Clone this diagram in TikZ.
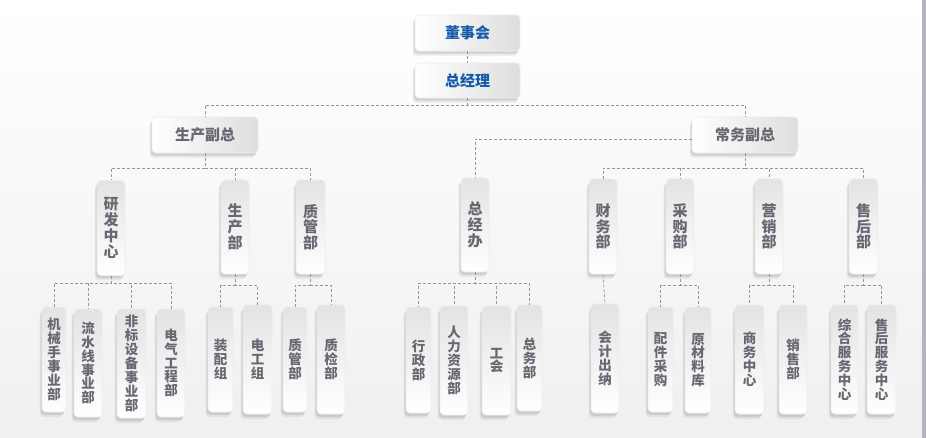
\documentclass[tikz,border=0pt]{standalone}
\usepackage{fontspec}
\newfontfamily\cjk{Noto Sans CJK SC}
\usetikzlibrary{shadows,calc}
\definecolor{txtgray}{RGB}{104,104,114}
\definecolor{txtblue}{RGB}{22,92,172}
\definecolor{linegray}{RGB}{150,150,150}
\definecolor{stripgray}{RGB}{180,180,190}
\tikzset{
  boxbase/.style={rounded corners=4pt, draw=black!7, line width=0.6pt, inner sep=0pt,
    drop shadow={shadow xshift=-1.5pt, shadow yshift=-3pt, opacity=0.10, fill=black},
    drop shadow={shadow xshift=-2.5pt, shadow yshift=-5pt, opacity=0.06, fill=black}},
  hbox/.style={boxbase, minimum width=106pt, minimum height=36pt, left color=white, right color=black!13,
    text=txtgray, font={\cjk\bfseries\fontsize{15}{15}\selectfont}},
  topbox/.style={hbox, text=txtblue},
  midbox/.style={boxbase, minimum width=28pt, top color=black!11, bottom color=white, align=center,
    text=txtgray, font={\cjk\bfseries\fontsize{15}{15.7}\selectfont}},
  lowbox/.style={boxbase, minimum width=28pt, top color=black!11, bottom color=white, align=center,
    text=txtgray, font={\cjk\bfseries\fontsize{13.5}{13.9}\selectfont}},
  conn/.style={draw=linegray, line width=0.7pt, dash pattern=on 3pt off 2pt}
}
\newcommand\mybranch[3]{\draw[conn] (#1.south) -- (#1.south |- 0,#2) -| (#3.north);}
\begin{document}
\begin{tikzpicture}[x=1pt,y=-1pt]
\useasboundingbox (0,0) rectangle (926,438);
\fill[top color=white, bottom color=black!6] (0,0) rectangle (926,438);
\fill[stripgray] (922,0) rectangle (926,438);

% top level
\node[topbox, minimum width=105pt] (dsh) at (467.5,33) {董事会};
\node[topbox, minimum width=105pt, minimum height=35pt] (zjl) at (467.5,80.5) {总经理};
\node[hbox] (szfz) at (205,135) {生产副总};
\node[hbox] (cwfz) at (745,135) {常务副总};

% middle level
\node[midbox, minimum height=95pt] (yfzx) at (111,228) {研\\发\\中\\心};
\node[midbox, minimum height=94pt] (scb) at (235,227) {生\\产\\部};
\node[midbox, minimum width=29pt, minimum height=94pt] (zgb) at (310.5,227) {质\\管\\部};
\node[midbox, minimum height=94pt] (zjb) at (475,225) {总\\经\\办};
\node[midbox, minimum height=95pt] (cwb) at (603,226.5) {财\\务\\部};
\node[midbox, minimum height=95pt] (cgb) at (680,226.5) {采\\购\\部};
\node[midbox, minimum height=95pt] (yxb) at (769,226.5) {营\\销\\部};
\node[midbox, minimum width=29pt, minimum height=95pt] (shb) at (863.5,226.5) {售\\后\\部};

% bottom level
\node[lowbox, minimum width=24pt, minimum height=105pt] (jxs) at (54,359.5) {机\\械\\手\\事\\业\\部};
\node[lowbox, minimum height=108pt] (lsx) at (88,363) {流\\水\\线\\事\\业\\部};
\node[lowbox, minimum width=29pt, minimum height=109pt] (fbsb) at (131.5,363.5) {非\\标\\设\\备\\事\\业\\部};
\node[lowbox, minimum height=108pt] (dqgc) at (171,363) {电\\气\\工\\程\\部};
\node[lowbox, minimum width=25pt, minimum height=105pt] (zpz) at (220.5,359.5) {装\\配\\组};
\node[lowbox, minimum width=29pt, minimum height=109pt] (dgz) at (257.5,359.5) {电\\工\\组};
\node[lowbox, minimum width=24pt, minimum height=105pt] (zgbb) at (295,359.5) {质\\管\\部};
\node[lowbox, minimum height=109pt] (zjbb) at (331,359.5) {质\\检\\部};
\node[lowbox, minimum width=25pt, minimum height=106pt] (xzb) at (418.5,360) {行\\政\\部};
\node[lowbox, minimum height=109pt] (rlzy) at (454,360.5) {人\\力\\资\\源\\部};
\node[lowbox, minimum width=29pt, minimum height=109pt] (gh) at (496.5,360.5) {工\\会};
\node[lowbox, minimum width=25pt, minimum height=106pt] (zwb) at (529.5,358) {总\\务\\部};
\node[lowbox, minimum height=109pt] (kjcn) at (605,358.5) {会\\计\\出\\纳};
\node[lowbox, minimum width=25pt, minimum height=105pt] (pjcg) at (660.5,359.5) {配\\件\\采\\购};
\node[lowbox, minimum width=26pt, minimum height=106pt] (ycl) at (698,360) {原\\材\\料\\库};
\node[lowbox, minimum width=29pt, minimum height=109pt] (swzx) at (749.5,359.5) {商\\务\\中\\心};
\node[lowbox, minimum height=109pt] (xsb) at (793,359.5) {销\\售\\部};
\node[lowbox, minimum width=27pt, minimum height=109pt] (zhfw) at (844.5,359.5) {综\\合\\服\\务\\中\\心};
\node[lowbox, minimum width=29pt, minimum height=109pt] (shfw) at (881.5,359.5) {售\\后\\服\\务\\中\\心};

% connectors
\draw[conn] (dsh) -- (zjl);
\mybranch{zjl}{105}{szfz}
\mybranch{zjl}{105}{cwfz}
\draw[conn] ($(cwfz.west)+(0,4)$) -| (zjb.north);

\mybranch{szfz}{168}{yfzx}
\mybranch{szfz}{168}{scb}
\mybranch{szfz}{168}{zgb}
\mybranch{cwfz}{168}{cwb}
\mybranch{cwfz}{168}{cgb}
\mybranch{cwfz}{168}{yxb}
\mybranch{cwfz}{168}{shb}

\mybranch{yfzx}{283}{jxs}
\mybranch{yfzx}{283}{lsx}
\mybranch{yfzx}{283}{fbsb}
\mybranch{yfzx}{283}{dqgc}
\mybranch{scb}{285}{zpz}
\mybranch{scb}{285}{dgz}
\mybranch{zgb}{285}{zgbb}
\mybranch{zgb}{285}{zjbb}
\mybranch{zjb}{283}{xzb}
\mybranch{zjb}{283}{rlzy}
\mybranch{zjb}{283}{gh}
\mybranch{zjb}{283}{zwb}
\draw[conn] (cwb.south) -- (kjcn.north);
\mybranch{cgb}{285}{pjcg}
\mybranch{cgb}{285}{ycl}
\mybranch{yxb}{285}{swzx}
\mybranch{yxb}{285}{xsb}
\mybranch{shb}{285}{zhfw}
\mybranch{shb}{285}{shfw}
\end{tikzpicture}
\end{document}
